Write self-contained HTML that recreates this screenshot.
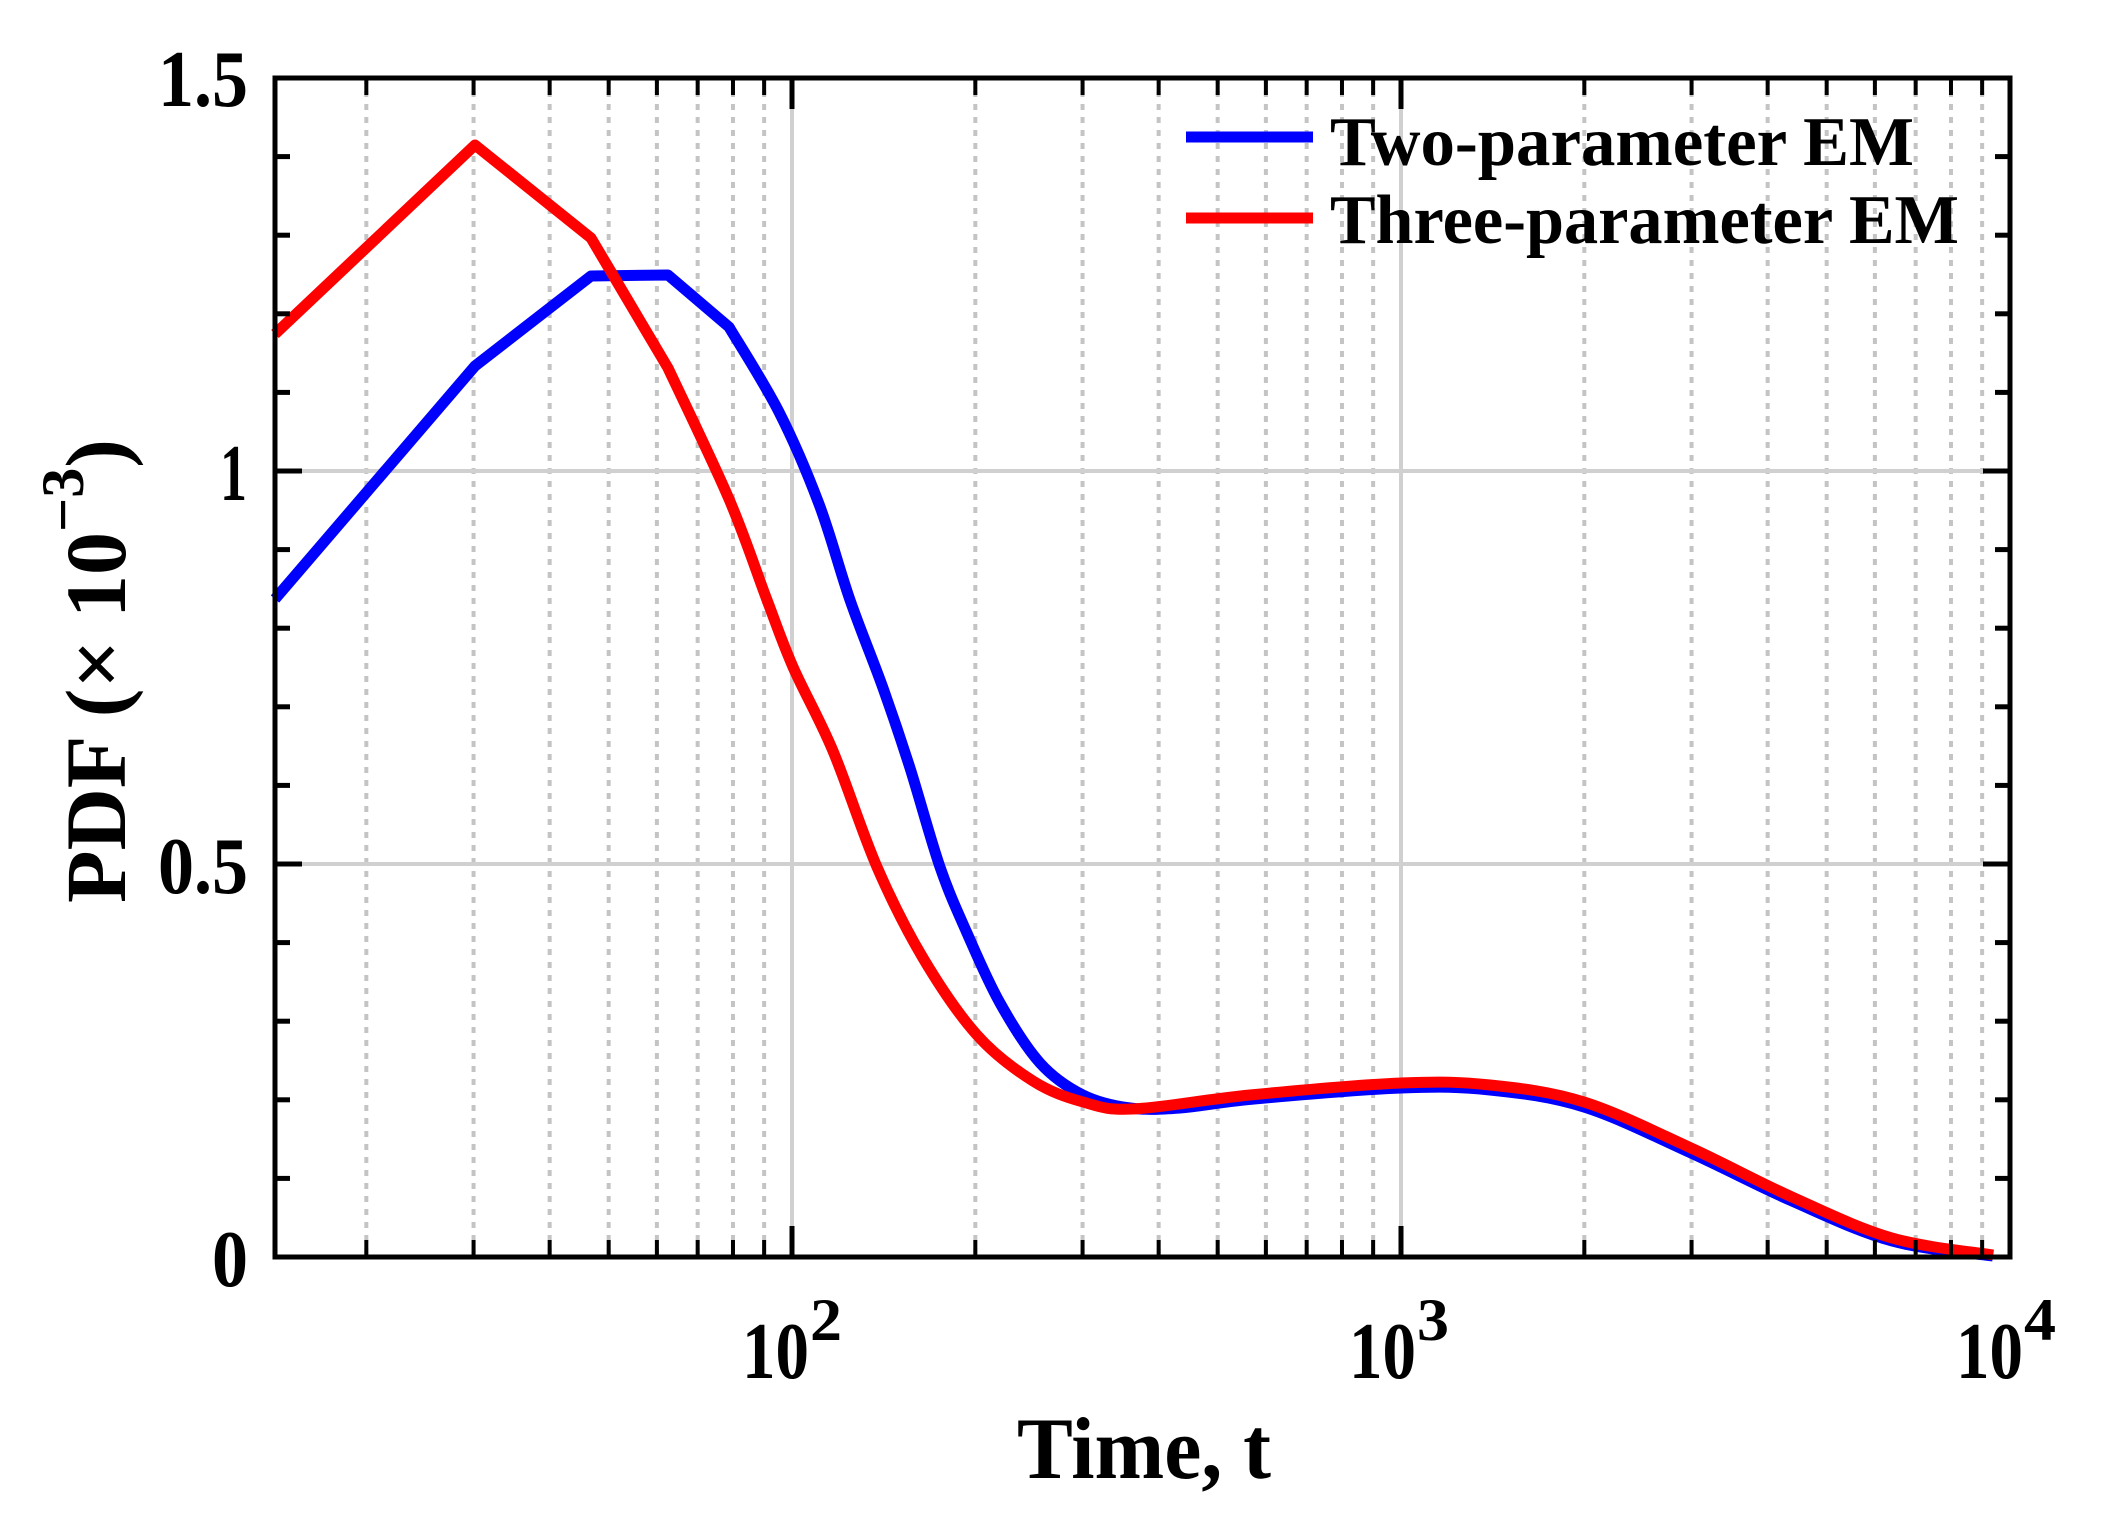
<!DOCTYPE html>
<html><head><meta charset="utf-8"><style>
html,body{margin:0;padding:0;background:#fff;}
svg{display:block;}
text{font-family:"Liberation Serif",serif;font-weight:bold;fill:#000;}
</style></head><body>
<svg id="s" width="2106" height="1521" viewBox="0 0 2106 1521" xmlns="http://www.w3.org/2000/svg">
<g id="grid"></g>
<path id="pb" fill="none" stroke="#0000ff" stroke-width="11" stroke-linejoin="round"/>
<path id="pr" fill="none" stroke="#ff0000" stroke-width="11" stroke-linejoin="round"/>
<g id="ticks"></g>
<rect x="275" y="78" width="1735" height="1179" fill="none" stroke="#000" stroke-width="5"/>
<text x="158" y="106" font-size="80" textLength="90" lengthAdjust="spacingAndGlyphs">1.5</text>
<text x="220" y="500" font-size="80" textLength="27" lengthAdjust="spacingAndGlyphs">1</text>
<text x="158" y="893" font-size="80" textLength="90" lengthAdjust="spacingAndGlyphs">0.5</text>
<text x="212" y="1286" font-size="80" textLength="36" lengthAdjust="spacingAndGlyphs">0</text>
<text x="742" y="1378" font-size="80" textLength="67" lengthAdjust="spacingAndGlyphs">10</text><text x="810" y="1340" font-size="60" textLength="32" lengthAdjust="spacingAndGlyphs">2</text>
<text x="1349" y="1378" font-size="80" textLength="67" lengthAdjust="spacingAndGlyphs">10</text><text x="1417" y="1340" font-size="60" textLength="32" lengthAdjust="spacingAndGlyphs">3</text>
<text x="1956" y="1378" font-size="80" textLength="67" lengthAdjust="spacingAndGlyphs">10</text><text x="2024" y="1340" font-size="60" textLength="32" lengthAdjust="spacingAndGlyphs">4</text>
<text x="1017" y="1478" font-size="88" textLength="254" lengthAdjust="spacingAndGlyphs">Time, t</text>
<text transform="translate(125,903) rotate(-90)" font-size="86" textLength="464" lengthAdjust="spacingAndGlyphs">PDF (× 10<tspan dy="-42" font-size="60">−3</tspan><tspan dy="42">)</tspan></text>
<line x1="1186" y1="137" x2="1313" y2="137" stroke="#0000ff" stroke-width="11"/>
<line x1="1186" y1="218" x2="1313" y2="218" stroke="#ff0000" stroke-width="11"/>
<text x="1330" y="165" font-size="70" textLength="584" lengthAdjust="spacingAndGlyphs">Two-parameter EM</text>
<text x="1330" y="243" font-size="70" textLength="629" lengthAdjust="spacingAndGlyphs">Three-parameter EM</text>
</svg>
<script>
var ns="http://www.w3.org/2000/svg";
function L(g,x1,y1,x2,y2,st,w,da){var l=document.createElementNS(ns,"line");l.setAttribute("x1",x1);l.setAttribute("y1",y1);l.setAttribute("x2",x2);l.setAttribute("y2",y2);l.setAttribute("stroke",st);l.setAttribute("stroke-width",w);if(da)l.setAttribute("stroke-dasharray",da);g.appendChild(l);}
var g=document.getElementById("grid"),t=document.getElementById("ticks");
function X(v){return 792+609*(Math.log10(v)-2);}
var T=78,B=1257,Lx=275,R=2010;
[1,2,3].forEach(function(e){for(var m=1;m<10;m++){var v=m*Math.pow(10,e);var x=X(v);if(x<=Lx+2||x>=R-2)continue;
 if(m==1){L(g,x,T,x,B,"#d0d0d0",4);L(t,x,B,x,B-31,"#000",5);L(t,x,T,x,T+31,"#000",5);}
 else{L(g,x,T,x,B,"#c4c4c4",4,"6,7");L(t,x,B,x,B-17,"#000",4);L(t,x,T,x,T+17,"#000",4);}}});
for(var i=1;i<15;i++){var y=B-i*78.6;var maj=(i%5==0);
 if(maj)L(g,Lx,y,R,y,"#d0d0d0",4);
 var len=maj?27:15;L(t,Lx,y,Lx+len,y,"#000",5);L(t,R,y,R-len,y,"#000",5);}
function path(lin,sm){var d="M"+lin[0].join(",");for(var i=1;i<lin.length;i++)d+=" L"+lin[i].join(",");
 var p=[lin[lin.length-1]].concat(sm);
 for(var i=0;i<p.length-1;i++){var p0=p[Math.max(0,i-1)],p1=p[i],p2=p[i+1],p3=p[Math.min(p.length-1,i+2)];
  var c1=[p1[0]+(p2[0]-p0[0])/6,p1[1]+(p2[1]-p0[1])/6],c2=[p2[0]-(p3[0]-p1[0])/6,p2[1]-(p3[1]-p1[1])/6];
  d+=" C"+c1.join(",")+" "+c2.join(",")+" "+p2.join(",");}
 return d;}
document.getElementById("pb").setAttribute("d",path([[275,599],[475,366],[591,276],[668,275],[729,327]],
 [[779,412],[819,504],[850,600],[883,688],[910,768],[940,867],[967,933],[1000,1003],[1040,1063],[1083,1095],[1130,1108],[1180,1108],[1254,1099],[1401,1088],[1490,1090],[1584,1107],[1691,1153],[1792,1201],[1892,1241],[1993,1256]]));
document.getElementById("pr").setAttribute("d",path([[275,334],[475,145],[591,238],[668,368]],
 [[729,499],[767,600],[793,667],[833,751],[877,867],[923,958],[977,1035],[1033,1081],[1083,1102],[1133,1109],[1250,1095],[1401,1083],[1490,1085],[1584,1102],[1691,1148],[1792,1197],[1892,1238],[1993,1255]]));
</script>
</body></html>
